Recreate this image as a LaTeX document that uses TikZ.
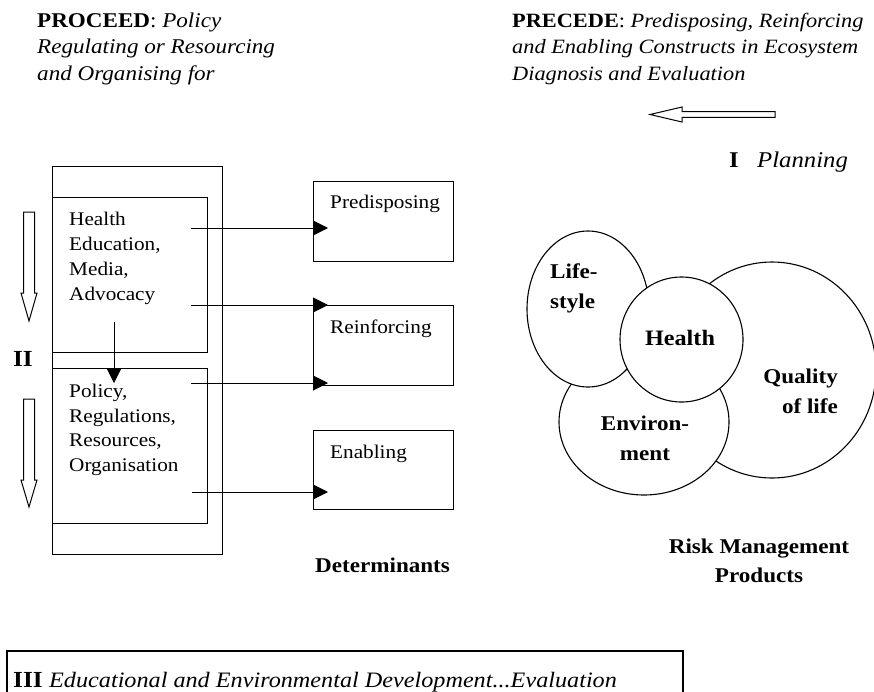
\documentclass[tikz,border=0pt]{standalone}
\usepackage{fontspec}
\setmainfont{Liberation Serif}[FakeStretch=1.1]
\usetikzlibrary{arrows.meta,shapes.geometric}
\begin{document}
\begin{tikzpicture}[x=1pt,y=-1pt,
  box/.style={draw, line width=1.1pt, inner sep=0, anchor=north west},
  bub/.style={draw, line width=1.1pt, fill=white, ellipse, inner sep=0},
  hd/.style={inner sep=0, anchor=base west, font=\fontsize{21}{25}\selectfont},
  hdr/.style={inner sep=0, anchor=base west, font=\fontsize{20.3}{25}\selectfont},
  body/.style={inner sep=0, anchor=base west, font=\fontsize{19.3}{23}\selectfont},
  bl/.style={inner sep=0, anchor=base, font=\fontsize{21}{25}\selectfont\bfseries},
  thin/.style={line width=1pt, -{Triangle[length=15pt,width=15pt]}},
  hollow/.style={draw, line width=1pt, fill=white, line join=miter}
]
\useasboundingbox (0,0) rectangle (874,691);

% headings
\node[hd] (pr1) at (37,27) {\textbf{PROCEED}: \textit{Policy}};
\node[hd] (pr2) at (37,53) {\textit{Regulating or Resourcing}};
\node[hd] (pr3) at (37,80) {\textit{and Organising for}};
\node[hdr] (pc1) at (512,27) {\textbf{PRECEDE}: \textit{Predisposing, Reinforcing}};
\node[hdr] (pc2) at (512,53) {\textit{and Enabling Constructs in Ecosystem}};
\node[hdr] (pc3) at (512,80) {\textit{Diagnosis and Evaluation}};

% planning arrow
\path[hollow] (775,111.7) -- (682,111.7) -- (682,107) -- (650,114.5) -- (682,122) -- (682,117.3) -- (775,117.3) -- cycle;
\node[hd, font=\fontsize{22.5}{26}\selectfont\bfseries] (one) at (729,167) {I};
\node[hd, font=\fontsize{22.5}{26}\selectfont] (plan) at (757,167) {\textit{Planning}};

% left boxes
\node[box, minimum width=170, minimum height=388] (outer) at (52,166) {};
\node[box, minimum width=155, minimum height=155] (top) at (52,197) {};
\node[box, minimum width=155, minimum height=155] (bot) at (52,368) {};

\node[body] (t1) at (69,225) {Health};
\node[body] (t2) at (69,250) {Education,};
\node[body] (t3) at (69,275) {Media,};
\node[body] (t4) at (69,300) {Advocacy};
\node[body] (b1) at (69,397) {Policy,};
\node[body] (b2) at (69,422) {Regulations,};
\node[body] (b3) at (69,446) {Resources,};
\node[body] (b4) at (69,471) {Organisation};

% hollow down arrows and II
\path[hollow] (23.5,212) -- (34.5,212) -- (34.5,293) -- (37,293) -- (29,321) -- (21,293) -- (23.5,293) -- cycle;
\path[hollow] (23.5,399) -- (34.5,399) -- (34.5,480) -- (37,480) -- (29,507) -- (21,480) -- (23.5,480) -- cycle;
\node[bl, font=\fontsize{23}{26}\selectfont\bfseries] (two) at (23,366) {II};

% right boxes
\node[box, minimum width=140, minimum height=80] (pred) at (313,181) {};
\node[box, minimum width=140, minimum height=80] (rein) at (313,305) {};
\node[box, minimum width=140, minimum height=79] (enab) at (313,430) {};
\node[body] (predt) at (330,208) {Predisposing};
\node[body] (reint) at (330,333) {Reinforcing};
\node[body] (enabt) at (330,458) {Enabling};
\node[bl, anchor=base west] (det) at (315,572) {Determinants};

% thin arrows
\coordinate (s1) at (191,228); \coordinate (e1) at (328,228);
\coordinate (s2) at (191,305); \coordinate (e2) at (328,305);
\coordinate (s3) at (191,383); \coordinate (e3) at (328,383);
\coordinate (s4) at (192,492); \coordinate (e4) at (328,492);
\coordinate (sv) at (114,322); \coordinate (ev) at (114,383);
\draw[thin] (s1) -- (e1);
\draw[thin] (s2) -- (e2);
\draw[thin] (s3) -- (e3);
\draw[thin] (s4) -- (e4);
\draw[thin] (sv) -- (ev);

% bubbles
\node[bub, minimum width=208, minimum height=216] (qol) at (772,370) {};
\node[bub, minimum width=170, minimum height=146] (env) at (644,422) {};
\node[bub, minimum width=122, minimum height=156] (life) at (588,309) {};
\node[bub, minimum width=123, minimum height=125] (hlth) at (681.5,339.5) {};

\node[bl, anchor=base west] (l1) at (550,278) {Life-};
\node[bl, anchor=base west] (l2) at (550,308) {style};
\node[bl, font=\fontsize{22}{26}\selectfont\bfseries] (h1) at (680,345) {Health};
\node[bl, anchor=base east] (q1) at (838,383) {Quality};
\node[bl, anchor=base east] (q2) at (838,413) {of life};
\node[bl] (en1) at (645,430) {Environ-};
\node[bl] (en2) at (645,460) {ment};
\node[bl] (rm1) at (759,553) {Risk Management};
\node[bl] (rm2) at (759,582) {Products};

% bottom box
\draw[line width=1.1pt] (7,700) -- (7,651) -- (683,651) -- (683,700);
\node[hd, font=\fontsize{23}{26}\selectfont\bfseries] (three) at (13,687) {III};
\node[hd, font=\fontsize{22}{26}\selectfont] (bt) at (49,687) {\textit{Educational and Environmental Development...Evaluation}};
\end{tikzpicture}
\end{document}
